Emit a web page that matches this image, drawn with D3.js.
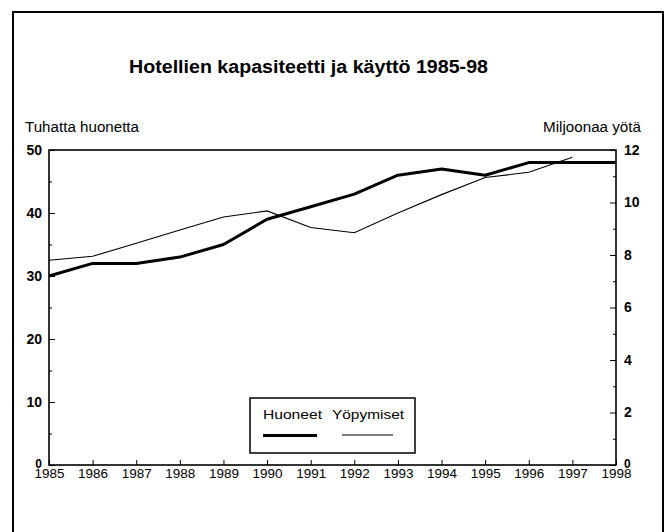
<!DOCTYPE html>
<html>
<head>
<meta charset="utf-8">
<script src="https://cdn.jsdelivr.net/npm/d3@7"></script>
<style>
  body { margin: 0; background: #fff; }
  svg text { font-family: "Liberation Sans", Arial, Helvetica, sans-serif; fill: #000; }
</style>
</head>
<body>
<svg id="chart" width="672" height="532"></svg>
<script>
// years on the x axis
const years = [1985, 1986, 1987, 1988, 1989, 1990, 1991, 1992, 1993, 1994, 1995, 1996, 1997, 1998];
// Huoneet, thousand rooms (left axis)
const rooms = [30, 32, 32, 33, 35, 39, 41, 43, 46, 47, 46, 48, 48, 48];
// Yöpymiset, million nights (right axis), data up to 1997
const nightYears = [1985, 1986, 1987, 1988, 1989, 1990, 1991, 1992, 1993, 1994, 1995, 1996, 1997];
const nights = [7.8, 7.95, 8.45, 8.95, 9.45, 9.68, 9.05, 8.85, 9.6, 10.3, 10.95, 11.15, 11.72];
const leftTicks = [0, 10, 20, 30, 40, 50];
const leftMinor = [5, 15, 25, 35, 45];
const rightTicks = [0, 2, 4, 6, 8, 10, 12];
const rightMinor = [1, 3, 5, 7, 9, 11];

const svg = d3.select("#chart");
const plot = { left: 49, right: 616, top: 150, bottom: 465 };

const x = d3.scaleLinear().domain([1985, 1998]).range([plot.left, plot.right]);
const yL = d3.scaleLinear().domain([0, 50]).range([plot.bottom, plot.top]);
const yR = d3.scaleLinear().domain([0, 12]).range([plot.bottom, plot.top]);

// outer frame (bottom edge runs off the page)
svg.append("rect")
    .attr("x", 13).attr("y", 12)
    .attr("width", 650).attr("height", 540)
    .attr("fill", "none").attr("stroke", "#000").attr("stroke-width", 2);

// title
svg.append("text")
    .attr("x", 129).attr("y", 73)
    .attr("font-size", 18).attr("font-weight", "bold")
    .attr("textLength", 359).attr("lengthAdjust", "spacingAndGlyphs")
    .text("Hotellien kapasiteetti ja käyttö 1985-98");

svg.append("text")
    .attr("x", 25).attr("y", 132)
    .attr("font-size", 14)
    .attr("textLength", 114).attr("lengthAdjust", "spacingAndGlyphs")
    .text("Tuhatta huonetta");

svg.append("text")
    .attr("x", 543).attr("y", 132)
    .attr("font-size", 14)
    .attr("textLength", 98).attr("lengthAdjust", "spacingAndGlyphs")
    .text("Miljoonaa yötä");

// axes, ticks pointing into the plot
const axLeft = svg.append("g")
    .attr("transform", `translate(${plot.left},0)`)
    .call(d3.axisLeft(yL).tickValues(leftTicks).tickSize(-6).tickPadding(7));
svg.append("g")
    .attr("transform", `translate(${plot.left},0)`)
    .call(d3.axisLeft(yL).tickValues(leftMinor).tickSize(-3).tickFormat(""));

const axRight = svg.append("g")
    .attr("transform", `translate(${plot.right},0)`)
    .call(d3.axisRight(yR).tickValues(rightTicks).tickSize(-6).tickPadding(8));
svg.append("g")
    .attr("transform", `translate(${plot.right},0)`)
    .call(d3.axisRight(yR).tickValues(rightMinor).tickSize(-3).tickFormat(""));

const axBottom = svg.append("g")
    .attr("transform", `translate(0,${plot.bottom})`)
    .call(d3.axisBottom(x).tickValues(years).tickFormat(d3.format("d")).tickSize(-5).tickPadding(13));

svg.selectAll(".domain").remove();
svg.selectAll(".tick line").attr("stroke", "#000").attr("stroke-width", 1);
svg.selectAll(".tick text").attr("font-family", null).attr("fill", "#000");
axLeft.selectAll("text").attr("font-size", 14).attr("font-weight", "bold");
axRight.selectAll("text").attr("font-size", 14).attr("font-weight", "bold");
axBottom.selectAll("text")
    .attr("font-size", 13.5).attr("dy", 0)
    .attr("textLength", 30).attr("lengthAdjust", "spacingAndGlyphs");
// zero labels sit just above the year labels
axLeft.selectAll(".tick").filter(d => d === 0).select("text").attr("font-size", 12).attr("dy", "0.2em");
axRight.selectAll(".tick").filter(d => d === 0).select("text").attr("font-size", 12).attr("dy", "0.2em");

// plot frame
svg.append("rect")
    .attr("x", plot.left).attr("y", plot.top)
    .attr("width", plot.right - plot.left).attr("height", plot.bottom - plot.top)
    .attr("fill", "none").attr("stroke", "#000").attr("stroke-width", 1.6);

// lines
const roomLine = d3.line().x((d, i) => x(years[i])).y(d => yL(d));
const nightLine = d3.line().x((d, i) => x(nightYears[i])).y(d => yR(d));

svg.append("path")
    .datum(nights)
    .attr("d", nightLine)
    .attr("fill", "none").attr("stroke", "#000").attr("stroke-width", 1.1);

svg.append("path")
    .datum(rooms)
    .attr("d", roomLine)
    .attr("fill", "none").attr("stroke", "#000").attr("stroke-width", 3)
    .attr("stroke-linejoin", "round");

// legend
const lg = svg.append("g");
lg.append("rect")
    .attr("x", 250).attr("y", 398).attr("width", 165).attr("height", 55)
    .attr("fill", "#fff").attr("stroke", "#000").attr("stroke-width", 1.5);
lg.append("text").attr("x", 263).attr("y", 419).attr("font-size", 13.5)
    .attr("textLength", 59).attr("lengthAdjust", "spacingAndGlyphs").text("Huoneet");
lg.append("text").attr("x", 332).attr("y", 419).attr("font-size", 13.5)
    .attr("textLength", 72).attr("lengthAdjust", "spacingAndGlyphs").text("Yöpymiset");
lg.append("line").attr("x1", 263).attr("x2", 317).attr("y1", 435.5).attr("y2", 435.5)
    .attr("stroke", "#000").attr("stroke-width", 3);
lg.append("line").attr("x1", 342).attr("x2", 393).attr("y1", 435).attr("y2", 435)
    .attr("stroke", "#000").attr("stroke-width", 1.1);
</script>
</body>
</html>
